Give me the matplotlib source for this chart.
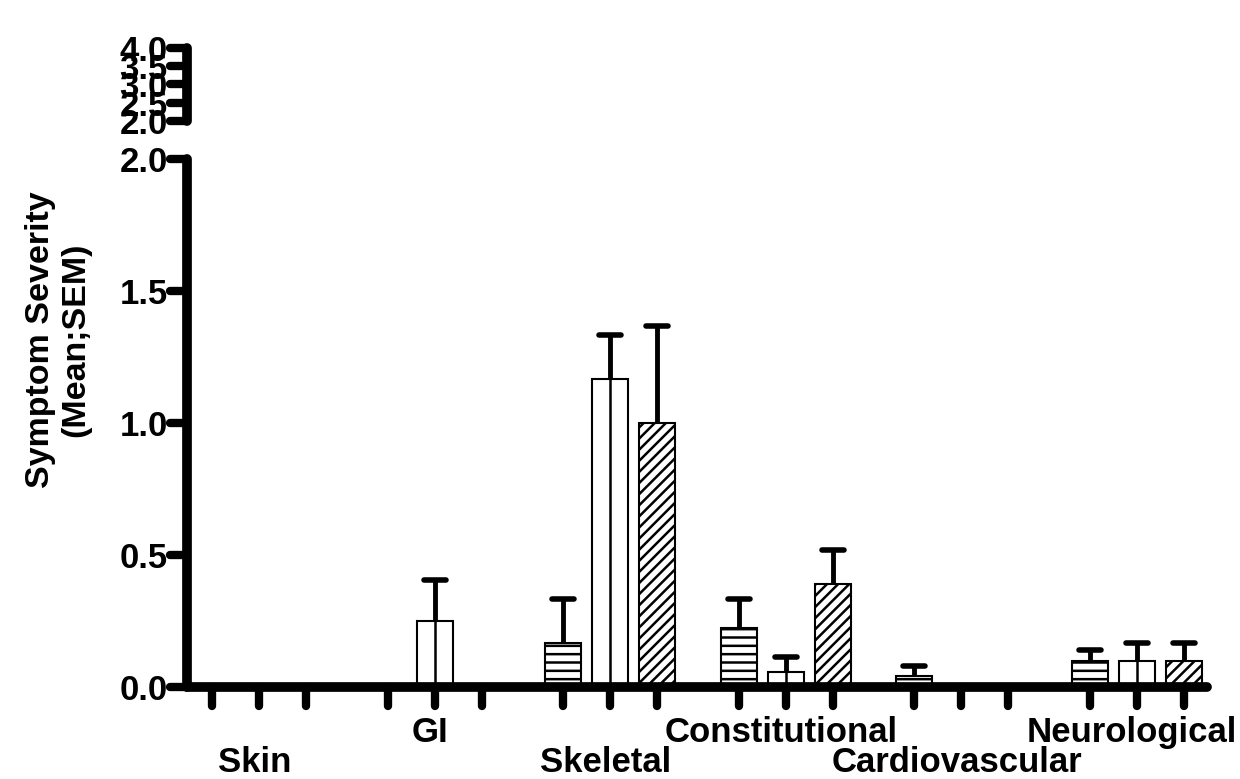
import numpy as np
import matplotlib.pyplot as plt
import matplotlib.transforms as mtransforms
from matplotlib.markers import MarkerStyle

plt.rcParams['font.family'] = ['Liberation Sans', 'DejaVu Sans']
plt.rcParams['font.weight'] = 'bold'
plt.rcParams['hatch.linewidth'] = 1.8

categories = ['Skin', 'GI', 'Skeletal', 'Constitutional', 'Cardiovascular', 'Neurological']
lined_mean = np.array([0, 0, 0.167, 0.222, 0.04, 0.1])
lined_sem = np.array([0, 0, 0.167, 0.111, 0.04, 0.04])
open_mean = np.array([0, 0.25, 1.167, 0.056, 0, 0.1])
open_sem = np.array([0, 0.155, 0.167, 0.056, 0, 0.067])
hatched_mean = np.array([0, 0, 1.0, 0.389, 0, 0.1])
hatched_sem = np.array([0, 0, 0.367, 0.13, 0, 0.067])
low_ticks = [0.0, 0.5, 1.0, 1.5, 2.0]
high_ticks = [2.0, 2.5, 3.0, 3.5, 4.0]

centers = np.arange(len(categories)) * 3.73
width = 0.77

fig = plt.figure(figsize=(12.4, 7.79), dpi=100)
ax = fig.add_axes([0.151, 0.1181, 0.8226, 0.6778])
axt = fig.add_axes([0.151, 0.8447, 0.8226, 0.0937])

series = [(centers - 1, lined_mean, lined_sem, '--'),
          (centers, open_mean, open_sem, None),
          (centers + 1, hatched_mean, hatched_sem, '///')]

for pos, mean, sem, hatch in series:
    ax.bar(pos, mean, width, color='white', edgecolor='black', linewidth=1.5,
           hatch=hatch, zorder=2)
    if hatch is None:
        ax.vlines(pos, 0, mean, colors='black', linewidth=1.8, zorder=2.1)
    m = mean > 0
    eb = ax.errorbar(pos[m], mean[m], yerr=[np.zeros(m.sum()), sem[m]], fmt='none',
                     ecolor='black', elinewidth=3.5, capsize=8, capthick=4, zorder=3)
    for cl in eb[1]:
        if np.allclose(cl.get_ydata(), mean[m]):
            cl.set_visible(False)
        else:
            cl.set_marker(MarkerStyle('_', capstyle='round'))

ax.set_xlim(-1.53, 20.15)
ax.set_ylim(0, 2.0)
ax.set_yticks(low_ticks)
ax.set_yticklabels([f'{t:.1f}' for t in low_ticks])
ax.set_yticks([2.0], minor=True)
ax.set_xticks(np.sort(np.concatenate([centers - 1, centers, centers + 1])))
ax.set_xticklabels([])
for s in ['top', 'right']:
    ax.spines[s].set_visible(False)
for s in ['left', 'bottom']:
    ax.spines[s].set_linewidth(7)
    ax.spines[s].set_capstyle('round')
ax.tick_params(axis='y', which='major', direction='out', length=12, width=6,
               labelsize=25, pad=2)
ax.tick_params(axis='y', which='minor', direction='in', length=10, width=6)
ax.tick_params(axis='x', direction='out', length=14, width=6)

axt.set_xlim(-1.53, 20.15)
axt.set_ylim(2.0, 4.0)
axt.set_yticks(high_ticks)
axt.set_yticklabels([f'{t:.1f}' for t in high_ticks])
axt.set_yticks([2.0], minor=True)
axt.set_xticks([])
for s in ['top', 'right', 'bottom']:
    axt.spines[s].set_visible(False)
axt.spines['left'].set_linewidth(7)
axt.spines['left'].set_capstyle('round')
axt.tick_params(axis='y', which='major', direction='out', length=12, width=6,
                labelsize=25, pad=2)
axt.tick_params(axis='y', which='minor', direction='in', length=10, width=6)

trans = mtransforms.blended_transform_factory(ax.transData, ax.transAxes)
for i, name in enumerate(categories):
    y = -0.104 if i % 2 else -0.161
    ax.text(centers[i] - 0.1, y, name, transform=trans, ha='center', va='baseline',
            fontsize=25, fontweight='bold')

fig.text(58 / 1240, 1 - 340 / 779, 'Symptom Severity\n(Mean;SEM)', rotation=90,
         ha='center', va='center', multialignment='center', fontsize=24.5,
         fontweight='bold', linespacing=1.15)

for a in (ax, axt):
    for t in a.yaxis.get_major_ticks() + a.yaxis.get_minor_ticks() + a.xaxis.get_major_ticks():
        t.tick1line.set_marker(MarkerStyle(t.tick1line.get_marker(), capstyle='round'))

fig.savefig('out.png', dpi=100)
